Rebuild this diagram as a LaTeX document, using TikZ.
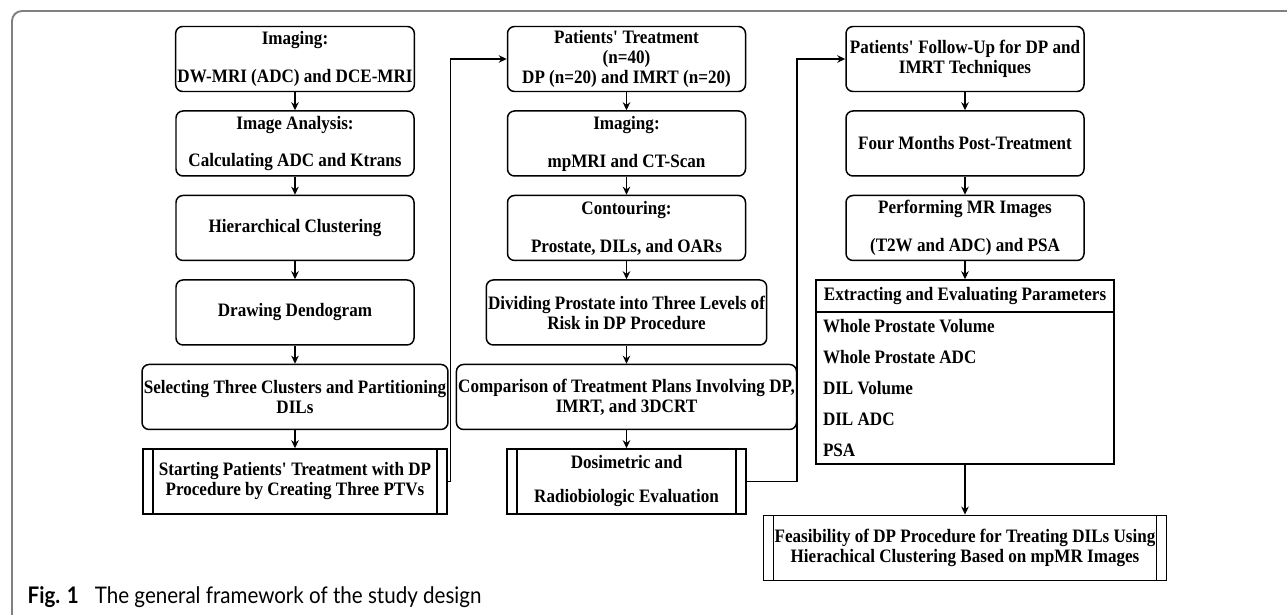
\documentclass[tikz,border=0pt]{standalone}
\usepackage{fontspec}
\setmainfont{Liberation Serif}[FakeStretch=0.9]
\newfontfamily\capfont{Lato}[FakeStretch=0.9]
\usetikzlibrary{positioning,arrows.meta,shapes.multipart}

\tikzstyle{block} = [draw, rectangle, rounded corners=0.14cm, line width=0.85pt,
    minimum height=1.3cm, minimum width=4.76cm, align=center,
    inner xsep=1pt, inner ysep=2pt, font=\bfseries\fontsize{10.8pt}{11.4pt}\selectfont]
\tikzstyle{procbox} = [draw, rectangle, line width=0.85pt,
    minimum height=1.3cm, align=center, inner xsep=0.22cm,
    font=\bfseries\fontsize{10.8pt}{11.4pt}\selectfont,
    path picture={\draw[line width=0.85pt]
      ([xshift=0.2cm]path picture bounding box.north west) -- ([xshift=0.2cm]path picture bounding box.south west)
      ([xshift=-0.2cm]path picture bounding box.north east) -- ([xshift=-0.2cm]path picture bounding box.south east);}]
\tikzstyle{listbox} = [draw, rectangle split, rectangle split parts=2, line width=0.85pt,
    text width=5.68cm, inner xsep=0.14cm, inner ysep=0.13cm, align=flush left,
    font=\bfseries\fontsize{10.8pt}{11.4pt}\selectfont]

\begin{document}
\begin{tikzpicture}[node distance=0.36cm, >={Stealth[length=0.16cm,width=0.15cm]}, line width=0.85pt]
    \useasboundingbox (0,0) rectangle (25.74,-12.3);
    % frame and caption
    \draw[gray, line width=1.1pt, rounded corners=0.2cm] (25.74,-0.22) -- (0.24,-0.22) -- (0.24,-12.3);
    \node [anchor=base west, inner sep=0, font=\capfont\fontsize{13pt}{15pt}\selectfont] (caption) at (0.54,-12.06)
        {\textbf{Fig. 1}\hspace{0.7em}The general framework of the study design};

    % first column
    \node [block] (img) at (5.9,-1.18) {Imaging:\\[0.36cm]DW-MRI (ADC) and DCE-MRI};
    \node [block, below=of img] (analysis) {Image Analysis:\\[0.34cm]Calculating ADC and Ktrans};
    \node [block, below=of analysis] (cluster) {Hierarchical Clustering};
    \node [block, below=of cluster] (dendo) {Drawing Dendogram};
    \node [block, below=of dendo, minimum width=5.94cm] (select) {Selecting Three Clusters and Partitioning\\DILs};
    \node [procbox, below=of select, minimum width=6.08cm] (start) {Starting Patients\textquotesingle\ Treatment with DP\\Procedure by Creating Three PTVs};

    % second column
    \node [block] (treat) at (12.53,-1.18) {Patients\textquotesingle\ Treatment\\(n=40)\\DP (n=20) and IMRT (n=20)};
    \node [block, below=of treat] (mpmri) {Imaging:\\[0.36cm]mpMRI and CT-Scan};
    \node [block, below=of mpmri] (contour) {Contouring:\\[0.36cm]Prostate, DILs, and OARs};
    \node [block, below=of contour, minimum width=5.58cm] (divide) {Dividing Prostate into Three Levels of\\Risk in DP Procedure};
    \node [block, below=of divide, minimum width=6.62cm] (compare) {Comparison of Treatment Plans Involving DP,\\IMRT, and 3DCRT};
    \node [procbox, below=of compare, minimum width=4.78cm] (dosi) {Dosimetric and\\[0.28cm]Radiobiologic Evaluation};

    % third column
    \node [block] (follow) at (19.3,-1.18) {Patients\textquotesingle\ Follow-Up for DP and\\IMRT Techniques};
    \node [block, below=of follow] (months) {Four Months Post-Treatment};
    \node [block, below=of months] (mrimg) {Performing MR Images\\[0.36cm](T2W and ADC) and PSA};
    \node [listbox, below=of mrimg] (params) {\makebox[\linewidth][c]{Extracting and Evaluating Parameters}
        \nodepart{two}Whole Prostate Volume\\[0.22cm]Whole Prostate ADC\\[0.22cm]DIL Volume\\[0.22cm]DIL ADC\\[0.22cm]PSA};
    \node [procbox, below=1cm of params, minimum width=7.96cm] (feasible) {Feasibility of DP Procedure for Treating DILs Using\\Hierachical Clustering Based on mpMR Images};

    \draw [->] (img) -- (analysis);
    \draw [->] (analysis) -- (cluster);
    \draw [->] (cluster) -- (dendo);
    \draw [->] (dendo) -- (select);
    \draw [->] (select) -- (start);
    \draw [->] (start.east) -- ++(0.06,0) |- (treat.west);
    \draw [->] (treat) -- (mpmri);
    \draw [->] (mpmri) -- (contour);
    \draw [->] (contour) -- (divide);
    \draw [->] (divide) -- (compare);
    \draw [->] (compare) -- (dosi);
    \draw [->] (dosi.east) -- ++(1,0) |- (follow.west);
    \draw [->] (follow) -- (months);
    \draw [->] (months) -- (mrimg);
    \draw [->] (mrimg) -- (params);
    \draw [->] (params) -- (feasible);
\end{tikzpicture}
\end{document}
